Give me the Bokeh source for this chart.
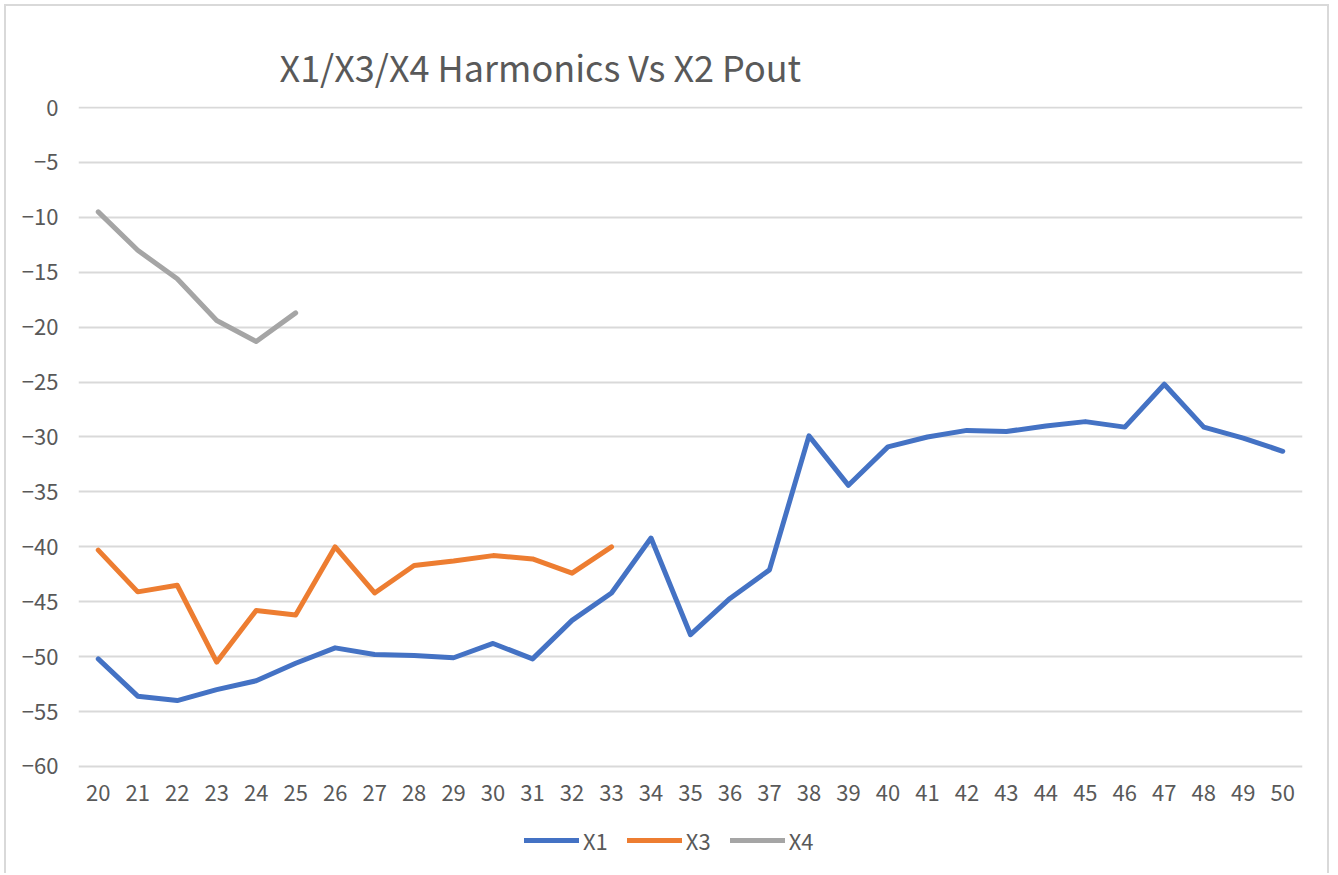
from bokeh.plotting import figure
from bokeh.models import FixedTicker, Legend, LegendItem, Title, Range1d
from bokeh.core.properties import value
from bokeh.embed import file_html
from bokeh.resources import INLINE

pout = list(range(20, 51))
x1 = [-50.2, -53.6, -54.0, -53.0, -52.2, -50.6, -49.2, -49.8, -49.9, -50.1,
      -48.8, -50.2, -46.7, -44.2, -39.2, -48.0, -44.7, -42.1, -29.9, -34.4,
      -30.9, -30.0, -29.4, -29.5, -29.0, -28.6, -29.1, -25.2, -29.1, -30.1, -31.3]
x3 = [-40.3, -44.1, -43.5, -50.5, -45.8, -46.2, -40.0, -44.2, -41.7, -41.3,
      -40.8, -41.1, -42.4, -40.0]
x4 = [-9.5, -13.0, -15.6, -19.4, -21.3, -18.7]
y_ticks = list(range(-60, 1, 5))
x_labels = [str(v) for v in pout]

FONT = "Noto Sans CJK SC"
TXT = "#595959"
GRID = "#d9d9d9"

# frame spans page y 105..870 ; value 0 near 106, 10.983 px per unit
PXU = 10.983
Y0 = 106.0
y_top = (Y0 - 105) / PXU
y_bot = -(870 - Y0) / PXU
label_y = -(791.0 - Y0) / PXU

p = figure(width=1325, height=869, output_backend="svg", toolbar_location=None,
           x_range=Range1d(19.5, 50.5), y_range=Range1d(y_bot, y_top),
           min_border_left=72, min_border_right=29, min_border_top=100,
           min_border_bottom=4)
p.margin = (4, 0, 0, 4)
p.styles = {"border-left": "2px solid #d9d9d9", "border-top": "2px solid #d9d9d9",
            "border-right": "2px solid #d9d9d9"}
p.outline_line_color = None
p.background_fill_color = "white"
p.border_fill_color = "white"

p.xaxis.visible = False
p.yaxis.ticker = FixedTicker(ticks=y_ticks)
ax = p.yaxis[0]
ax.axis_line_color = None
ax.major_tick_line_color = None
ax.minor_tick_line_color = None
ax.major_label_text_font = FONT
ax.major_label_text_font_size = "22px"
ax.major_label_text_color = TXT
ax.major_label_standoff = 14
p.xgrid.grid_line_color = None
p.ygrid.ticker = FixedTicker(ticks=y_ticks)
p.ygrid.grid_line_color = GRID
p.ygrid.grid_line_width = 2

# category labels along the bottom
p.text(x=pout, y=[label_y] * len(pout), text=x_labels, text_align="center",
       text_baseline="middle", text_font=value(FONT), text_font_size="22px",
       text_color=TXT)

r1 = p.line(pout, x1, line_color="#4472C4", line_width=5, line_join="round", line_cap="round")
r3 = p.line(pout[:len(x3)], x3, line_color="#ED7D31", line_width=5, line_join="round", line_cap="round")
r4 = p.line(pout[:len(x4)], x4, line_color="#A5A5A5", line_width=5, line_join="round", line_cap="round")

legend = Legend(items=[LegendItem(label="X1", renderers=[r1]),
                       LegendItem(label="X3", renderers=[r3]),
                       LegendItem(label="X4", renderers=[r4])],
                orientation="horizontal", location=(446, 15),
                glyph_width=55, glyph_height=20, label_standoff=4, spacing=19,
                label_text_font=FONT, label_text_font_size="22px",
                label_text_color=TXT, border_line_color=None,
                background_fill_alpha=0, padding=4, margin=0)
p.add_layout(legend, "center")

title = Title(text="X1/X3/X4 Harmonics Vs X2 Pout", align="left", offset=201,
              text_font=FONT, text_font_size="36px", text_font_style="normal",
              text_color=TXT, standoff=29)
p.add_layout(title, "above")

open("out.html", "w").write(file_html(p, INLINE))
